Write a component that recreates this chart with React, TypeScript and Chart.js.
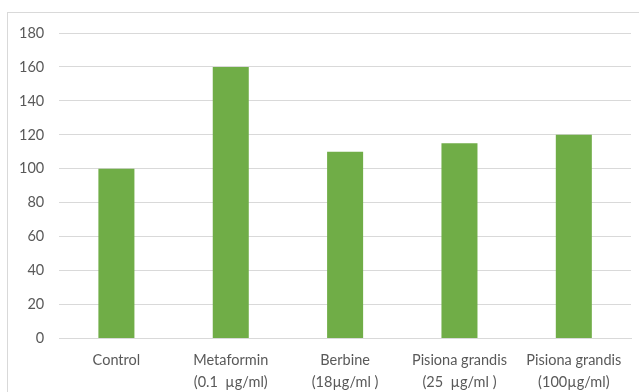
import React, { useEffect, useRef } from "react";
import { Chart, registerables } from "chart.js";

Chart.register(...registerables);

const categories: string[][] = [
  ["Control"],
  ["Metaformin", "(0.1  µg/ml)"],
  ["Berbine", "(18µg/ml )"],
  ["Pisiona grandis", "(25  µg/ml )"],
  ["Pisiona grandis", "(100µg/ml)"],
];
const values: number[] = [100, 160, 110, 115, 120];
const yMin = 0;
const yMax = 180;
const yStep = 20;

const borderPlugin = {
  id: "outerBorder",
  beforeDraw(chart: any) {
    const ctx = chart.ctx;
    ctx.save();
    ctx.strokeStyle = "#d9d9d9";
    ctx.lineWidth = 1;
    ctx.strokeRect(7.5, 12.5, 700, 500);
    ctx.restore();
  },
};

export default function App() {
  const ref = useRef<HTMLCanvasElement | null>(null);
  useEffect(() => {
    if (!ref.current) return;
    const chart = new Chart(ref.current, {
      type: "bar",
      data: {
        labels: categories,
        datasets: [
          {
            data: values,
            backgroundColor: "#70ad47",
            borderWidth: 0,
            categoryPercentage: 1,
            barPercentage: 0.315,
          },
        ],
      },
      options: {
        animation: false,
        responsive: false,
        maintainAspectRatio: false,
        layout: { padding: { left: 4, right: 8, top: 33, bottom: -12 } },
        plugins: { legend: { display: false }, tooltip: { enabled: false } },
        scales: {
          x: {
            grid: { display: false, drawTicks: false },
            border: { display: true, color: "#d9d9d9" },
            ticks: {
              color: "#595959",
              font: { family: "Lato", size: 14.5, lineHeight: 1.5 },
              padding: 11,
              maxRotation: 0,
              autoSkip: false,
            },
          },
          y: {
            min: yMin,
            max: yMax,
            grid: { color: "#d9d9d9", drawTicks: false },
            border: { display: false },
            ticks: {
              stepSize: yStep,
              color: "#595959",
              font: { family: "Lato", size: 14.5 },
              padding: 15,
            },
          },
        },
      },
      plugins: [borderPlugin],
    });
    return () => chart.destroy();
  }, []);
  return (
    <div style={{ position: "absolute", left: 0, top: 0, width: 639, height: 392, overflow: "hidden", background: "#fff" }}>
      <canvas ref={ref} width={639} height={392} style={{ width: 639, height: 392 }} />
    </div>
  );
}
